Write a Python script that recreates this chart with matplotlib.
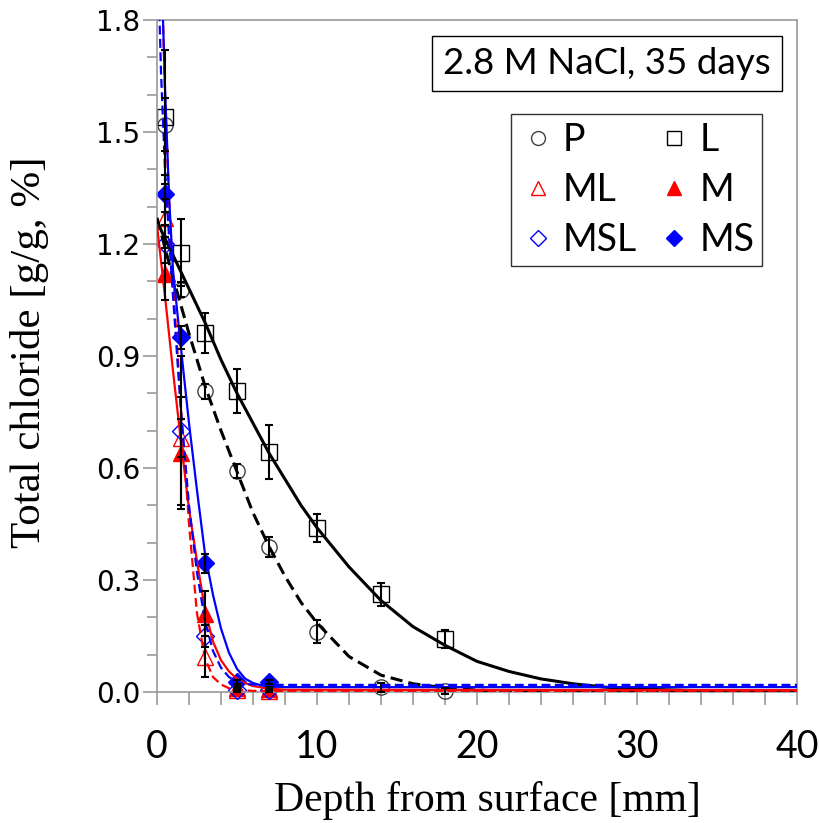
import matplotlib
matplotlib.use("Agg")
import matplotlib.pyplot as plt
from matplotlib.lines import Line2D
from matplotlib.patches import Rectangle
from matplotlib.ticker import MultipleLocator

# measured profiles, depth in mm, total chloride in g/g %
depth = [0.5, 1.5, 3, 5, 7, 10, 14, 18]
P = [1.52, 1.077, 0.806, 0.592, 0.389, 0.161, 0.013, 0.003]
P_err = [0.07, 0.02, 0.02, 0.02, 0.027, 0.031, 0.012, 0.008]
L = [1.54, 1.177, 0.962, 0.806, 0.643, 0.439, 0.262, 0.142]
L_err = [0.18, 0.09, 0.053, 0.06, 0.072, 0.037, 0.031, 0.023]

depth_m = [0.5, 1.5, 3, 5, 7]
ML = [1.27, 0.68, 0.095, 0.004, 0.003]
ML_err = [0.05, 0.05, 0.055, 0.003, 0.003]
M = [1.12, 0.64, 0.21, 0.01, 0.008]
M_err = [0.07, 0.15, 0.06, 0.005, 0.004]
MSL = [1.20, 0.70, 0.15, 0.006, 0.005]
MSL_err = [0.05, 0.2, 0.03, 0.004, 0.003]
MS = [1.335, 0.95, 0.345, 0.027, 0.027]
MS_err = [0.05, 0.03, 0.025, 0.006, 0.005]

# fitted curves
fit_P_x = [0, 1, 2, 3, 4, 5, 6, 7, 8, 9, 10, 12, 14, 16, 18, 20, 22, 25, 30, 40]
fit_P_y = [1.27, 1.11, 0.96, 0.82, 0.70, 0.59, 0.48, 0.39, 0.31, 0.24, 0.185,
           0.095, 0.045, 0.022, 0.011, 0.005, 0.002, 0.0, 0.0, 0.0]
fit_L_x = [0, 1, 2, 3, 4, 5, 6, 7, 8, 9, 10, 12, 14, 16, 18, 20, 22, 24, 26,
           28, 30, 35, 40]
fit_L_y = [1.26, 1.17, 1.08, 0.99, 0.89, 0.80, 0.72, 0.64, 0.57, 0.50, 0.44,
           0.335, 0.245, 0.175, 0.125, 0.082, 0.055, 0.035, 0.022, 0.013,
           0.008, 0.002, 0.0]
fit_MS_x = [0, 0.25, 0.5, 0.75, 1.0, 1.5, 2.0, 2.5, 3.0, 3.5, 4.0, 4.5, 5.0,
            5.5, 6.0, 6.5, 7.0, 8.0, 40]
fit_MS_y = [2.4, 1.98, 1.62, 1.33, 1.13, 0.92, 0.72, 0.54, 0.37, 0.26, 0.17,
            0.105, 0.062, 0.036, 0.024, 0.018, 0.015, 0.013, 0.013]
fit_MSL_x = [0, 0.25, 0.5, 0.75, 1.0, 1.5, 2.0, 2.5, 3.0, 3.5, 4.0, 4.5, 5.0,
             5.5, 6.0, 7.0, 40]
fit_MSL_y = [2.05, 1.66, 1.40, 1.22, 1.06, 0.75, 0.50, 0.32, 0.19, 0.11,
             0.065, 0.04, 0.028, 0.022, 0.02, 0.019, 0.019]
fit_M_x = [0, 0.5, 1.0, 1.5, 2.0, 2.5, 3.0, 3.5, 4.0, 4.5, 5.0, 5.5, 6.0, 7.0,
           8.0, 40]
fit_M_y = [1.25, 1.06, 0.86, 0.67, 0.49, 0.35, 0.22, 0.135, 0.085, 0.055,
           0.035, 0.024, 0.016, 0.009, 0.006, 0.005]
fit_ML_x = [0, 0.25, 0.5, 0.75, 1.0, 1.5, 2.0, 2.5, 3.0, 3.5, 4.0, 4.5, 5.0,
            6.0, 40]
fit_ML_y = [2.6, 2.0, 1.6, 1.32, 1.10, 0.76, 0.45, 0.21, 0.09, 0.04, 0.02,
            0.01, 0.006, 0.003, 0.003]

RED = "#ff0000"
BLUE = "#0000ff"
GREY = "#9a9a9a"


def draw_fits(ax):
    ax.plot(fit_L_x, fit_L_y, color="black", lw=2.2, zorder=3)
    ax.plot(fit_P_x, fit_P_y, color="black", lw=2.2, ls=(0, (4, 2)), zorder=3)
    ax.plot(fit_M_x, fit_M_y, color=RED, lw=1.6, zorder=3)
    ax.plot(fit_ML_x, fit_ML_y, color=RED, lw=1.6, ls=(0, (4, 2)), zorder=3)
    ax.plot(fit_MS_x, fit_MS_y, color=BLUE, lw=1.6, zorder=3)
    ax.plot(fit_MSL_x, fit_MSL_y, color=BLUE, lw=1.6, ls=(0, (4, 2)), zorder=3)


def draw_points(ax):
    series = [
        (depth, P, P_err, "o", "#404040", "none", 11),
        (depth, L, L_err, "s", "black", "none", 12),
        (depth_m, ML, ML_err, "^", RED, "none", 12),
        (depth_m, M, M_err, "^", RED, RED, 12),
        (depth_m, MSL, MSL_err, "D", BLUE, "none", 9),
        (depth_m, MS, MS_err, "D", BLUE, BLUE, 9),
    ]
    for x, y, err, mk, ec, fc, ms in series:
        ax.plot(x, y, ls="none", marker=mk, mec=ec, mfc=fc, ms=ms, mew=1.0,
                zorder=2, clip_on=False)
        ax.errorbar(x, y, yerr=err, fmt="none", ecolor="black", elinewidth=1.5,
                    capsize=3, capthick=1.5, zorder=4, clip_on=False)


def style_axes(ax):
    ax.set_xlim(0, 40)
    ax.set_ylim(0, 1.8)
    ax.xaxis.set_major_locator(MultipleLocator(10))
    ax.xaxis.set_minor_locator(MultipleLocator(2))
    ax.yaxis.set_major_locator(MultipleLocator(0.3))
    ax.yaxis.set_minor_locator(MultipleLocator(0.1))
    ax.yaxis.set_major_formatter(plt.FormatStrFormatter("%.1f"))
    for sp in ax.spines.values():
        sp.set_color(GREY)
        sp.set_linewidth(1.2)
    ax.tick_params(axis="both", which="both", direction="out", color=GREY, width=1.2)
    ax.tick_params(axis="x", which="major", length=9, pad=18)
    ax.tick_params(axis="x", which="minor", length=9)
    ax.tick_params(axis="y", which="major", length=10, pad=2)
    ax.tick_params(axis="y", which="minor", length=7)
    for lab in ax.get_xticklabels():
        lab.set_fontfamily("Lato")
        lab.set_fontsize(27)
    for lab in ax.get_yticklabels():
        lab.set_fontfamily("DejaVu Sans")
        lab.set_fontsize(20)


def draw_legend(ax):
    handles = [
        Line2D([], [], ls="none", marker="o", mec="#404040", mfc="none", ms=10),
        Line2D([], [], ls="none", marker="^", mec=RED, mfc="none", ms=10),
        Line2D([], [], ls="none", marker="D", mec=BLUE, mfc="none", ms=8),
        Line2D([], [], ls="none", marker="s", mec="black", mfc="none", ms=10),
        Line2D([], [], ls="none", marker="^", mec=RED, mfc=RED, ms=10),
        Line2D([], [], ls="none", marker="D", mec=BLUE, mfc=BLUE, ms=8),
    ]
    labels = ["P", "ML", "MSL", "L", "M", "MS"]
    leg = ax.legend(handles, labels, ncol=2, loc="upper left",
                    bbox_to_anchor=(0.553, 0.860), frameon=True, fancybox=False,
                    prop={"family": "Lato", "size": 27}, handlelength=1.0,
                    handletextpad=0.17, columnspacing=0.48, labelspacing=0.37,
                    borderpad=0.22, borderaxespad=0)
    leg.get_frame().set_edgecolor("black")
    leg.get_frame().set_linewidth(1.0)


def main():
    fig = plt.figure(figsize=(8.19, 8.23), dpi=100)
    ax = fig.add_axes([0.1917, 0.1592, 0.7814, 0.8165])

    draw_points(ax)
    draw_fits(ax)
    style_axes(ax)
    draw_legend(ax)

    ax.add_patch(Rectangle((0.4297, 0.8943), 0.5469, 0.0819, transform=ax.transAxes,
                           fc="white", ec="black", lw=1.0, zorder=6))
    ax.text(0.703, 0.935, "2.8 M NaCl, 35 days", transform=ax.transAxes,
            ha="center", va="center", fontsize=26.5, fontfamily="Lato", zorder=7)

    fig.text(487 / 819, 1 - 801 / 823, "Depth from surface [mm]", ha="center",
             va="center", fontsize=30, fontfamily="Liberation Serif")
    fig.text(30 / 819, 1 - 352 / 823, "Total chloride [g/g, %]", ha="center",
             va="center", rotation=90, fontsize=31, fontfamily="Liberation Serif")

    fig.savefig("out.png", dpi=100)


if __name__ == "__main__":
    main()
